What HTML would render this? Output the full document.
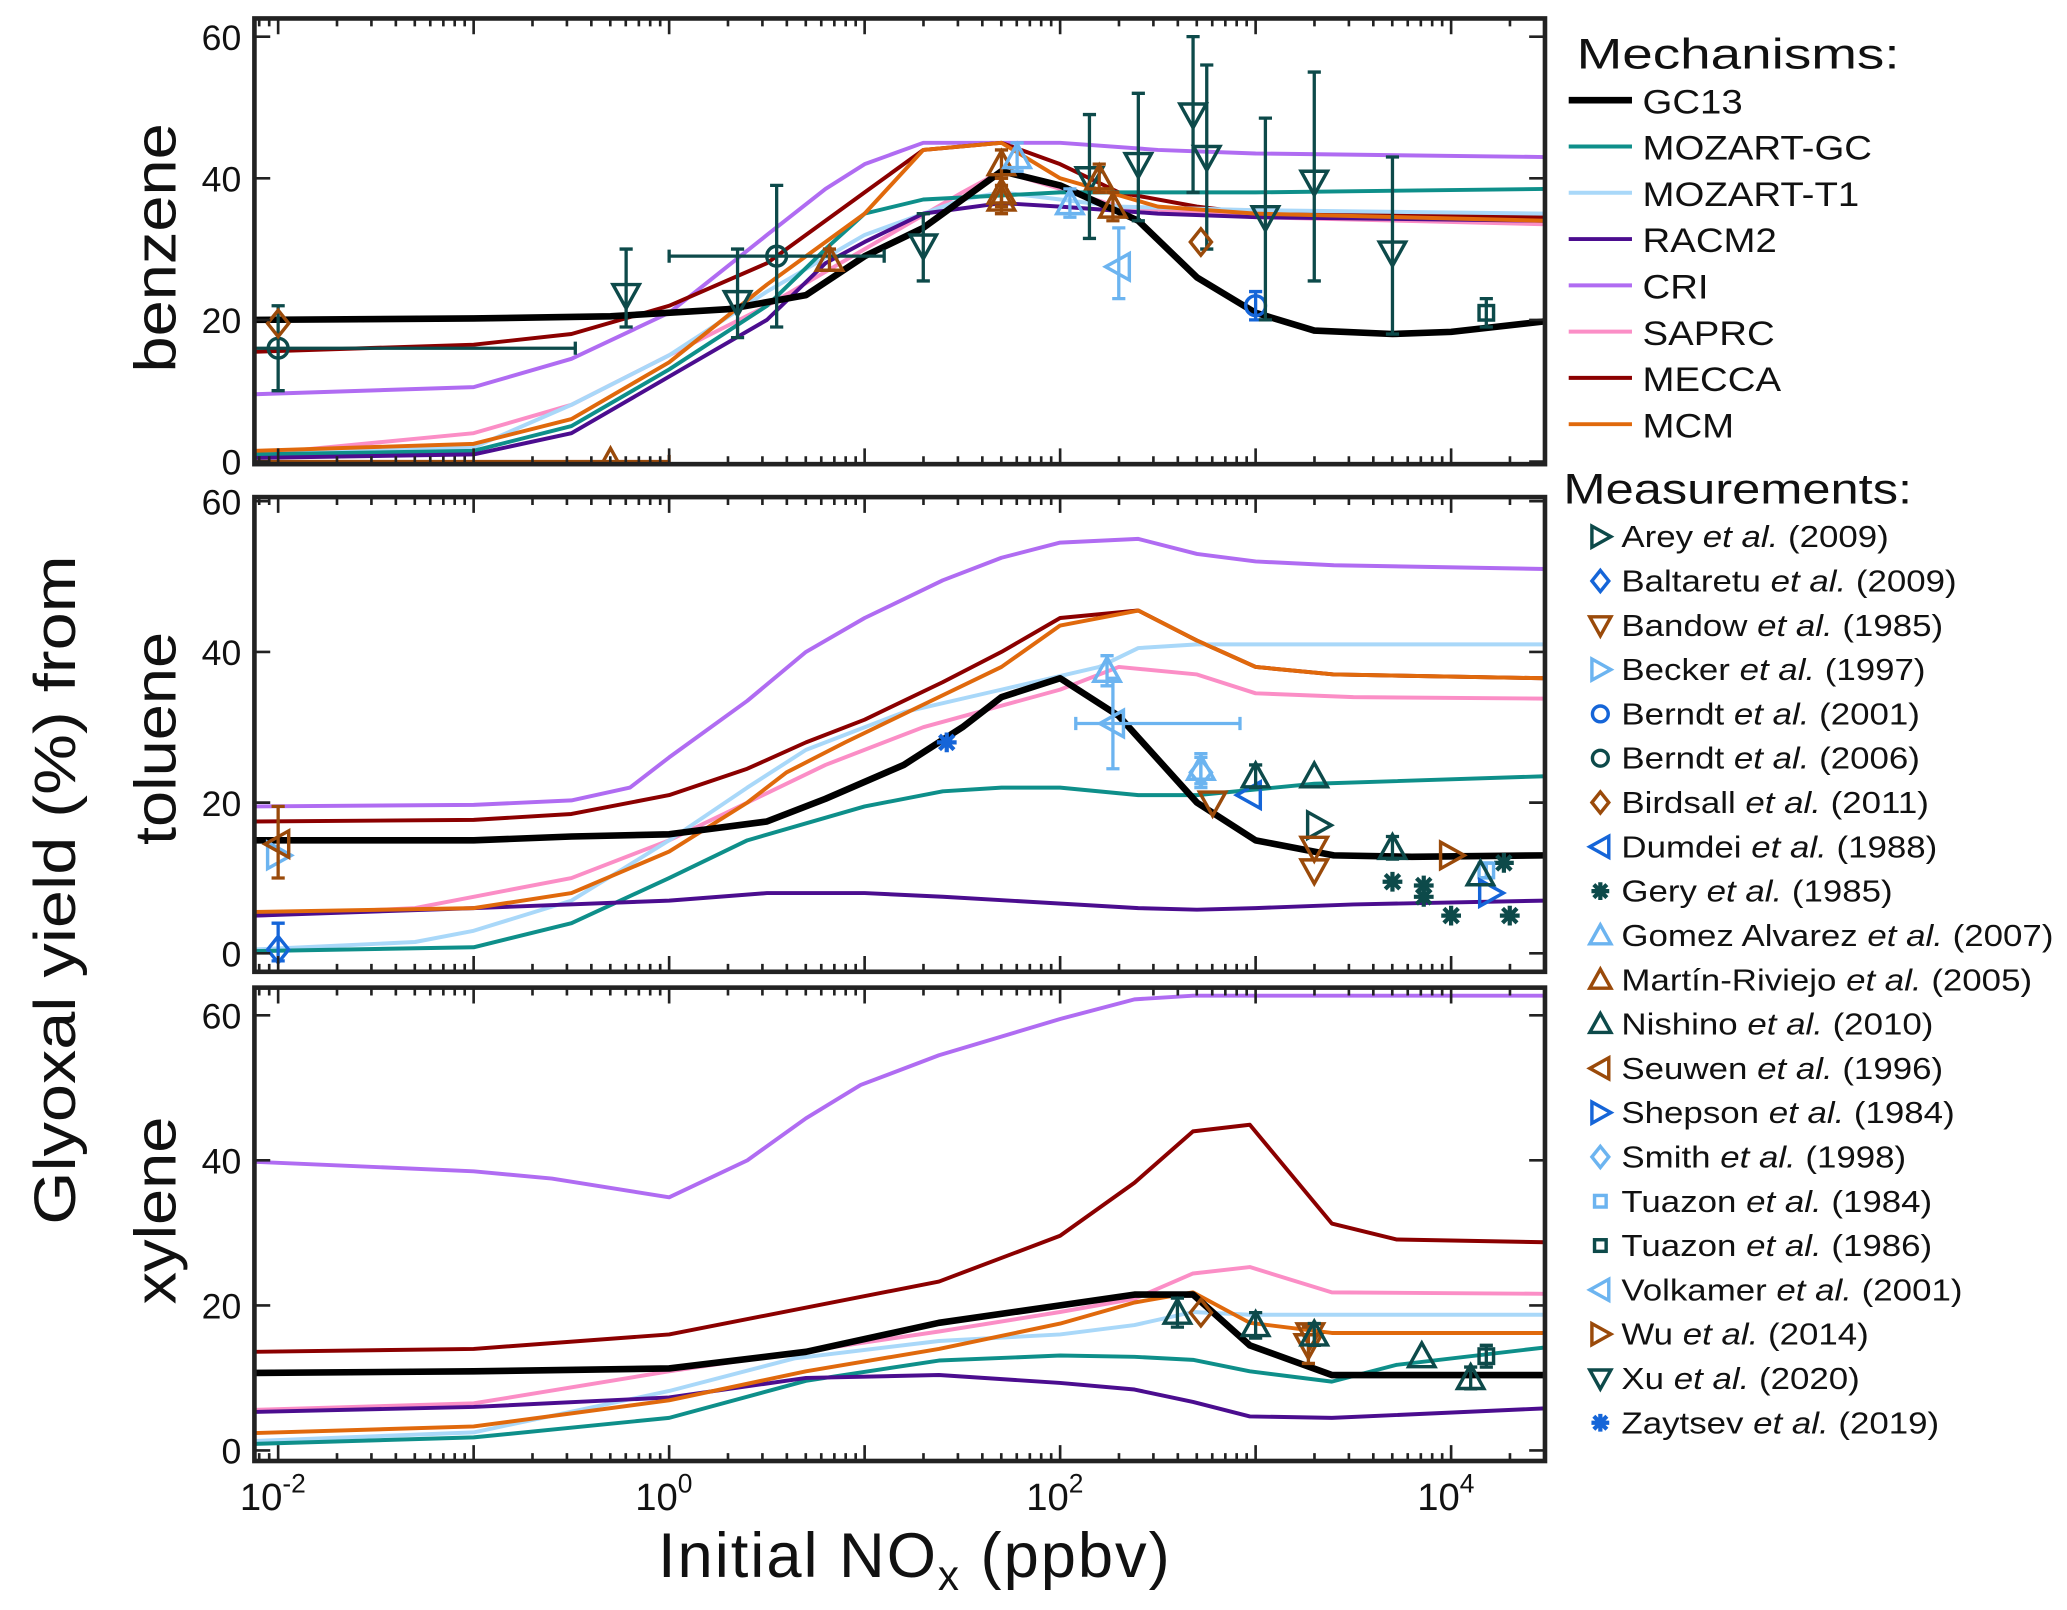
<!DOCTYPE html>
<html><head><meta charset="utf-8"><style>
html,body{margin:0;padding:0;background:#fff;}
svg{display:block;font-family:"Liberation Sans",sans-serif;}
</style></head><body>
<svg id="chart" width="2067" height="1610" viewBox="0 0 1568 1221" preserveAspectRatio="none" xmlns="http://www.w3.org/2000/svg">
<defs>
<clipPath id="c0"><rect x="193" y="14" width="979" height="338"/></clipPath>
<clipPath id="c1"><rect x="193" y="377" width="979" height="360"/></clipPath>
<clipPath id="c2"><rect x="193" y="749" width="979" height="359"/></clipPath>
</defs>
<g id="layer"></g>
</svg>
<script>
// ---- data (x in log10 NOx ppbv, y in % yield) ----
const mechNames = ["CRI","MECCA","SAPRC","MOZART-T1","MOZART-GC","RACM2","MCM","GC13"];
const legendOrder = ["GC13","MOZART-GC","MOZART-T1","RACM2","CRI","SAPRC","MECCA","MCM"];
const mechColors = {"GC13":"#000000","MOZART-GC":"#0e8f8a","MOZART-T1":"#a9d8f9","RACM2":"#4b0d8f","CRI":"#b06cf2","SAPRC":"#fb8ec6","MECCA":"#8b0000","MCM":"#e0690c"};

const benzX = {
 "GC13":[-2.12,-1,-0.3,0.3,0.7,1,1.3,1.7,2,2.4,2.7,3,3.3,3.7,4,4.48],
 "MOZART-GC":[-2.12,-1,-0.5,0,0.5,0.8,1,1.3,2,3,4.48],
 "MOZART-T1":[-2.12,-1,-0.5,0,0.5,1,1.5,1.7,2.3,3,4.48],
 "RACM2":[-2.12,-1,-0.5,0,0.5,0.8,1,1.3,1.7,2,2.5,3,4.48],
 "CRI":[-2.12,-1,-0.5,0,0.5,0.8,1,1.3,1.7,2,2.5,3,4.48],
 "SAPRC":[-2.12,-1,-0.5,0,0.5,1,1.5,1.7,2.3,3,4.48],
 "MECCA":[-2.12,-1,-0.5,0,0.5,1,1.3,1.7,2,2.3,2.7,3,4.48],
 "MCM":[-2.12,-1,-0.5,0,0.5,1,1.3,1.7,2,2.5,3,4.48]};
const benzY = {
 "GC13":[20,20.2,20.5,21.5,23.5,29,33,41,39,34,26,21,18.5,18,18.3,19.8],
 "MOZART-GC":[1,1.5,5,13,22,30,35,37,38,38,38.5],
 "MOZART-T1":[1,2,8,15,24,32,37,38,36,35.5,35],
 "RACM2":[0.5,1,4,12,20,28,31,35,36.5,36,35,34.5,34],
 "CRI":[9.5,10.5,14.5,21,32,38.5,42,45,45,45,44,43.5,43],
 "SAPRC":[1,4,8,15,22,30,38,41,36,34.5,33.5],
 "MECCA":[15.5,16.5,18,22,28,38,44,45,42,38,36,35,34.5],
 "MCM":[1.5,2.5,6,14,25,35,44,45,40,36,35,34]};

const tolX = {
 "GC13":[-2.12,-1,-0.5,0,0.5,0.8,1.2,1.5,1.7,2,2.3,2.7,3,3.4,3.8,4.48],
 "MOZART-GC":[-2.12,-1,-0.5,0,0.4,1,1.4,1.7,2,2.4,2.7,3.3,4.48],
 "MOZART-T1":[-2.12,-1.3,-1,-0.5,0,0.4,0.7,1.2,1.7,2.2,2.4,2.7,4.48],
 "RACM2":[-2.12,-1,0,0.5,1,1.4,2.4,2.7,3,3.5,4.48],
 "CRI":[-2.12,-1,-0.5,-0.2,0,0.4,0.7,1,1.4,1.7,2,2.4,2.7,3,3.4,4.48],
 "SAPRC":[-2.12,-1.3,-1,-0.5,0,0.4,0.8,1.3,2,2.3,2.7,3,3.5,4.48],
 "MECCA":[-2.12,-1,-0.5,0,0.4,0.7,1,1.4,1.7,2,2.4,2.7,3,3.4,4.48],
 "MCM":[-2.12,-1,-0.5,0,0.4,0.6,0.9,1.3,1.7,2,2.4,2.7,3,3.4,4.48]};
const tolY = {
 "GC13":[15,15,15.5,15.8,17.5,20.5,25,30,34,36.5,31.5,20,15,13,12.8,13],
 "MOZART-GC":[0.3,0.8,4,10,15,19.5,21.5,22,22,21,21,22.5,23.5],
 "MOZART-T1":[0.5,1.5,3,7,15,22,27,32,35,38,40.5,41,41],
 "RACM2":[5,6,7,8,8,7.5,6,5.8,6,6.5,7],
 "CRI":[19.5,19.7,20.3,22,26,33.5,40,44.5,49.5,52.5,54.5,55,53,52,51.5,51],
 "SAPRC":[5,6,7.5,10,15,20,25,30,35,38,37,34.5,34,33.8],
 "MECCA":[17.5,17.7,18.5,21,24.5,28,31,36,40,44.5,45.5,41.5,38,37,36.5],
 "MCM":[5.5,6,8,13.5,20,24,28,33,38,43.5,45.5,41.5,38,37,36.5]};

const xylX = {
 "GC13":[-2.12,-1,0,0.7,1.38,2,2.38,2.68,2.97,3.39,4.48],
 "MOZART-GC":[-2.12,-1,0,0.7,1.38,2,2.38,2.68,2.97,3.39,3.72,4.48],
 "MOZART-T1":[-2.12,-1,0,0.64,1.38,2,2.38,2.68,2.97,4.48],
 "RACM2":[-2.12,-1,0,0.7,1.38,2,2.38,2.68,2.97,3.39,4.48],
 "CRI":[-2.12,-1,-0.6,0,0.4,0.7,0.98,1.38,2,2.38,2.68,4.48],
 "SAPRC":[-2.12,-1,0,1.38,2,2.38,2.68,2.97,3.39,4.48],
 "MECCA":[-2.12,-1,0,1.38,2,2.38,2.68,2.97,3.39,3.72,4.48],
 "MCM":[-2.12,-1,0,0.7,1.38,2,2.38,2.68,2.97,3.39,4.48]};
const xylY = {
 "GC13":[10.7,10.9,11.3,13.6,17.6,20,21.5,21.5,14.5,10.4,10.4],
 "MOZART-GC":[0.9,1.8,4.5,9.6,12.4,13.1,12.9,12.5,10.9,9.5,11.8,14.2],
 "MOZART-T1":[1.3,2.5,8.2,12.7,15.1,16,17.3,19.1,18.7,18.7],
 "RACM2":[5.3,6,7.3,10,10.4,9.3,8.4,6.7,4.7,4.5,5.8],
 "CRI":[39.8,38.5,37.5,34.9,40,45.8,50.4,54.5,59.5,62.2,62.7,62.7],
 "SAPRC":[5.6,6.5,10.9,16.4,19.1,20.9,24.4,25.3,21.8,21.6],
 "MECCA":[13.6,14,16,23.3,29.6,36.9,44,44.9,31.3,29.1,28.7],
 "MCM":[2.4,3.3,6.9,10.9,14,17.5,20.4,21.8,17.6,16.2,16.2]};

// measurements: [source, log10 x, y, yErrLow, yErrHigh, xErrLow(log), xErrHigh(log)]
const benzMeas = [
 ["Berndt2006",-2,16,10,22,-2.12,-0.48],["Birdsall",-2,19.5,null,null],
 ["Martin",-0.3,0,null,null,-2.12,0],["Xu",-0.22,23.5,19,30],["Xu",0.35,22.5,17.5,30],
 ["Berndt2006",0.55,29,19,39,0,1.1],["Martin",0.82,28.5,27,30],["Xu",1.3,30.5,25.5,35],
 ["Martin",1.7,42,40,44],["Martin",1.7,37,35,39],["Martin",1.7,38,36,40],["Gomez",1.78,43,41,45],
 ["Gomez",2.05,36.5,34.5,38.5],["Xu",2.15,40,31.5,49],["Martin",2.2,40,38,42],["Martin",2.27,36,34,38],
 ["Volkamer",2.3,27.5,23,33],["Xu",2.4,42,34,52],["Xu",2.68,49,38,60],["Xu",2.75,43,30,56],
 ["Birdsall",2.72,31,null,null],["Berndt2001",3,22,20,24],["Xu",3.05,34.5,20,48.5],
 ["Xu",3.3,39.5,25.5,55],["Xu",3.7,29.5,18,43],["Tuazon1986",4.18,21,19,23]];
const tolMeas = [
 ["Becker",-2,13,null,null],["Seuwen",-2,14.5,10,19.5],["Baltaretu",-2,0.5,-1,4],
 ["Zaytsev",1.42,28,null,null],["Gomez",2.24,37.5,35.5,39.5],["Volkamer",2.27,30.5,24.5,36.5,2.08,2.92],
 ["Smith",2.72,24,22,26],["Gomez",2.72,24.5,22.5,26.5],["Bandow",2.78,20,null,null],["Dumdei",2.97,21,null,null],
 ["Nishino",3,23.5,22,25],["Nishino",3.3,23.5,null,null],["Arey",3.32,17,null,null],["Bandow",3.3,14,null,null],
 ["Bandow",3.3,11,null,null],["Nishino",3.7,14,12.5,15.5],["Gery",3.7,9.5,null,null],["Gery",3.86,9,null,null],
 ["Gery",3.86,7.5,null,null],["Gery",4,5,null,null],["Gery",4.3,5,null,null],["Gery",4.27,12,null,null],
 ["Wu",4.0,13,null,null],["Tuazon1984",4.18,11,10,12],["Shepson",4.2,8,null,null],["Nishino",4.15,10.5,null,null]];
const xylMeas = [
 ["Nishino",2.6,19,17,21],["Birdsall",2.72,19,null,null],["Nishino",3.0,17.3,15.5,19],
 ["Bandow",3.27,14.5,12,17],["Bandow",3.28,16,null,null],["Nishino",3.3,16,14.5,17.5],
 ["Nishino",3.85,13,null,null],["Nishino",4.1,10,8.5,11.5],["Tuazon1986",4.18,13,11.5,14.5]];

const sources = [
 ["Arey","Arey","(2009)","right","#0d4a4a"],["Baltaretu","Baltaretu","(2009)","diamond","#1565d8"],
 ["Bandow","Bandow","(1985)","down","#9a4a0a"],["Becker","Becker","(1997)","right","#6cb4f0"],
 ["Berndt2001","Berndt","(2001)","circle","#1565d8"],["Berndt2006","Berndt","(2006)","circle","#0d4a4a"],
 ["Birdsall","Birdsall","(2011)","diamond","#9a4a0a"],["Dumdei","Dumdei","(1988)","left","#1565d8"],
 ["Gery","Gery","(1985)","star","#0d4a4a"],["Gomez","Gomez Alvarez","(2007)","up","#6cb4f0"],
 ["Martin","Martín-Riviejo","(2005)","up","#9a4a0a"],["Nishino","Nishino","(2010)","up","#0d4a4a"],
 ["Seuwen","Seuwen","(1996)","left","#9a4a0a"],["Shepson","Shepson","(1984)","right","#1565d8"],
 ["Smith","Smith","(1998)","diamond","#6cb4f0"],["Tuazon1984","Tuazon","(1984)","square","#6cb4f0"],
 ["Tuazon1986","Tuazon","(1986)","square","#0d4a4a"],["Volkamer","Volkamer","(2001)","left","#6cb4f0"],
 ["Wu","Wu","(2014)","right","#9a4a0a"],["Xu","Xu","(2020)","down","#0d4a4a"],
 ["Zaytsev","Zaytsev","(2019)","star","#1565d8"]];

const yTicks = [0,20,40,60];
const xTickExp = [-2,0,2,4];
const panelNames = ["benzene","toluene","xylene"];

// ---- rendering ----
const NS="http://www.w3.org/2000/svg";
const root=document.getElementById("layer");
function mk(tag,attrs,parent){const e=document.createElementNS(NS,tag);for(const k in attrs)e.setAttribute(k,attrs[k]);(parent||root).appendChild(e);return e;}
function stretch(t,f){const w=t.getComputedTextLength();t.setAttribute("textLength",(w*f).toFixed(1));t.setAttribute("lengthAdjust","spacingAndGlyphs");}
const L=193,R=1172;
const xpx=l=>211+(l+2)*148.3;
const panels=[{top:14,bot:352,y0:350,k:5.37,cy:188},{top:377,bot:737,y0:723,k:5.715,cy:560},{top:749,bot:1108,y0:1100,k:5.5,cy:918}];
const allX=[benzX,tolX,xylX],allY=[benzY,tolY,xylY],allM=[benzMeas,tolMeas,xylMeas];
const srcMap={};sources.forEach(s=>srcMap[s[0]]=s);

function marker(shape,cx,cy,col,s,parent){
  let e;
  if(shape==="up") e=mk("polygon",{points:`${cx},${cy-s} ${cx-s},${cy+s*0.8} ${cx+s},${cy+s*0.8}`},parent);
  else if(shape==="down") e=mk("polygon",{points:`${cx},${cy+s} ${cx-s},${cy-s*0.8} ${cx+s},${cy-s*0.8}`},parent);
  else if(shape==="left") e=mk("polygon",{points:`${cx-s},${cy} ${cx+s*0.8},${cy-s} ${cx+s*0.8},${cy+s}`},parent);
  else if(shape==="right") e=mk("polygon",{points:`${cx+s},${cy} ${cx-s*0.8},${cy-s} ${cx-s*0.8},${cy+s}`},parent);
  else if(shape==="diamond") e=mk("polygon",{points:`${cx},${cy-s} ${cx+s*0.8},${cy} ${cx},${cy+s} ${cx-s*0.8},${cy}`},parent);
  else if(shape==="circle") e=mk("circle",{cx:cx,cy:cy,r:s*0.75},parent);
  else if(shape==="square") e=mk("rect",{x:cx-s*0.55,y:cy-s*0.55,width:s*1.1,height:s*1.1},parent);
  else { e=mk("path",{d:`M${cx-s*0.75},${cy}H${cx+s*0.75}M${cx},${cy-s*0.75}V${cy+s*0.75}M${cx-s*0.55},${cy-s*0.55}L${cx+s*0.55},${cy+s*0.55}M${cx-s*0.55},${cy+s*0.55}L${cx+s*0.55},${cy-s*0.55}`},parent); }
  e.setAttribute("fill","none");e.setAttribute("stroke",col);e.setAttribute("stroke-width",shape==="star"?3.2:2.6);
  return e;
}

panels.forEach((p,i)=>{
  const yp=v=>p.y0-v*p.k;
  const g=mk("g",{});
  
  
  mk("rect",{x:L,y:p.top,width:R-L,height:p.bot-p.top,fill:"#fff"},g);
  const lines=mk("g",{"clip-path":`url(#c${i})`},g);
  mechNames.forEach(n=>{
    const xs=allX[i][n],ys=allY[i][n];
    const d=xs.map((x,j)=>(j?"L":"M")+xpx(x).toFixed(1)+","+yp(ys[j]).toFixed(1)).join("");
    const pl=mk("path",{d:d,fill:"none",stroke:mechColors[n],"stroke-width":n==="GC13"?5:3,"stroke-linejoin":"round"},lines);
    
    
  });
  allM[i].forEach(m=>{
    const s=srcMap[m[0]];const col=s[4];const cx=xpx(m[1]),cy=yp(m[2]);
    const mg=mk("g",{},lines);
    
    
    if(m[3]!=null){const y1=yp(m[3]),y2=yp(m[4]);
      mk("path",{d:`M${cx},${y1}V${y2}M${cx-5},${y1}H${cx+5}M${cx-5},${y2}H${cx+5}`,stroke:col,"stroke-width":2.5,fill:"none"},mg);}
    if(m[5]!=null){const x1=xpx(m[5]),x2=xpx(m[6]);
      mk("path",{d:`M${x1},${cy}H${x2}M${x1},${cy-5}V${cy+5}M${x2},${cy-5}V${cy+5}`,stroke:col,"stroke-width":2.5,fill:"none"},mg);}
    marker(s[3],cx,cy,col,10,mg);
  });
  let td="";
  for(let d=-3;d<=4;d++)for(let m=1;m<=9;m++){const l=d+Math.log10(m);const x=xpx(l);if(x<L||x>R)continue;
    const len=m===1?12:6;td+=`M${x},${p.bot}v${-len}M${x},${p.top}v${len}`;}
  yTicks.forEach(v=>{const y=yp(v);if(y<p.top||y>p.bot)return;td+=`M${L},${y}h12M${R},${y}h-12`;});
  mk("path",{d:td,stroke:"#222","stroke-width":2,fill:"none"},g);
  mk("rect",{x:L,y:p.top,width:R-L,height:p.bot-p.top,fill:"none",stroke:"#222","stroke-width":3.5},g);
  yTicks.forEach(v=>{const y=yp(v);if(y<p.top-2||y>p.bot+2)return;
    const t=mk("text",{x:183,y:y+10,"text-anchor":"end","font-size":27,fill:"#111"},g);t.textContent=v;
    
    });
  const pt=mk("text",{x:0,y:0,transform:`translate(133,${p.cy}) rotate(-90)`,"text-anchor":"middle","font-size":44,fill:"#111"},g);
  pt.textContent=panelNames[i];
  
  
  stretch(pt,1.12);
});
xTickExp.forEach(e=>{const t=mk("text",{x:xpx(e)-4,y:1145,"text-anchor":"middle","font-size":29,fill:"#111"});
  
  
  const a=mk("tspan",{},t);a.textContent="10";const b=mk("tspan",{dy:-13,"font-size":20},t);b.textContent=e;});
const yt=mk("text",{transform:"translate(57,675) rotate(-90)","text-anchor":"middle","font-size":44,fill:"#111"});
yt.textContent="Glyoxal yield (%) from";


stretch(yt,1.18);
const xt=mk("text",{x:694,y:1196,"text-anchor":"middle","font-size":48,fill:"#111"});


{const a=mk("tspan",{},xt);a.textContent="Initial NO";const b=mk("tspan",{dy:10,"font-size":32},xt);b.textContent="x";const c=mk("tspan",{dy:-10},xt);c.textContent=" (ppbv)";}
xt.setAttribute("letter-spacing","1.5");
const lg=mk("g",{});


const h1=mk("text",{x:1196,y:52,"font-size":32,fill:"#111"},lg);h1.textContent="Mechanisms:";


stretch(h1,1.3);
legendOrder.forEach((n,j)=>{const y=76+j*35.1;
  const eg=mk("g",{},lg);
  
  
  mk("line",{x1:1190,x2:1238,y1:y,y2:y,stroke:mechColors[n],"stroke-width":n==="GC13"?5:3},eg);
  const t=mk("text",{x:1246,y:y+10,"font-size":26,fill:"#111"},eg);t.textContent=n;
  stretch(t,1.12);});
const h2=mk("text",{x:1186,y:382,"font-size":32,fill:"#111"},lg);h2.textContent="Measurements:";


stretch(h2,1.2);
sources.forEach((s,j)=>{const y=407+j*33.6;
  const eg=mk("g",{},lg);
  
  
  marker(s[3],1214,y,s[4],s[3]==="star"?9:8,eg);
  const t=mk("text",{x:1230,y:y+8,"font-size":23,fill:"#111"},eg);
  const a=mk("tspan",{},t);a.textContent=s[1]+" ";
  const b=mk("tspan",{"font-style":"italic"},t);b.textContent="et al.";
  const c=mk("tspan",{},t);c.textContent=" "+s[2];
  stretch(t,1.15);});
</script>
</body></html>
